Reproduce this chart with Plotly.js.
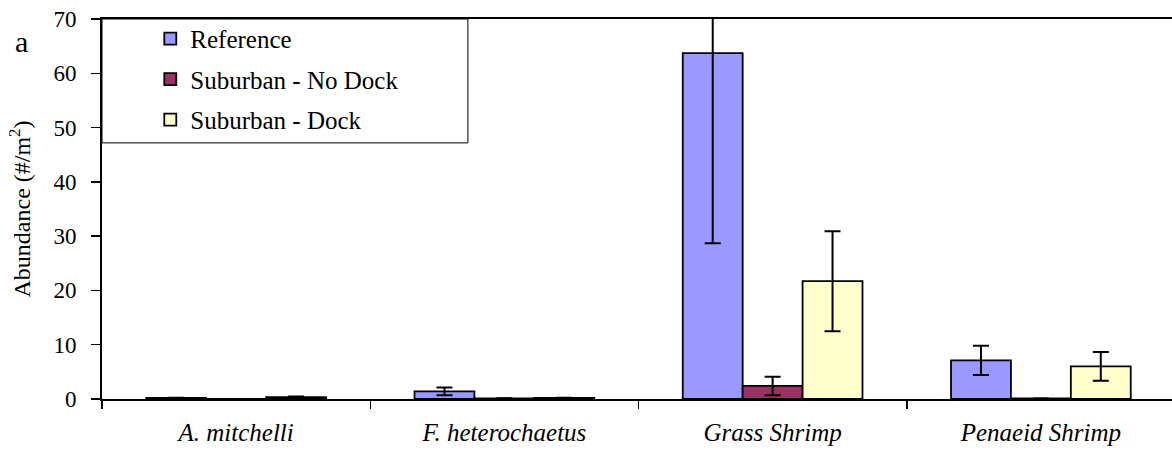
<!DOCTYPE html>
<html>
<head>
<meta charset="utf-8">
<script src="https://cdn.plot.ly/plotly-3.0.1.min.js"></script>
<style>
html,body{margin:0;padding:0;background:#fff;overflow:hidden;}
#chart{width:1175px;height:452px;}
</style>
</head>
<body>
<div id="chart"></div>
<script>
const categories = ['A. mitchelli', 'F. heterochaetus', 'Grass Shrimp', 'Penaeid Shrimp'];
const tickLabels = ['<i>A. mitchelli</i>', '<i>F. heterochaetus</i>', '<i>Grass Shrimp</i>', '<i>Penaeid Shrimp</i>'];
const seriesNames = ['Reference', 'Suburban - No Dock', 'Suburban - Dock'];
const referenceVals = [0.2, 1.4, 63.7, 7.1];
const referenceErr = [0.05, 0.7, 35.0, 2.7];
const noDockVals = [0.02, 0.1, 2.4, 0.1];
const noDockErr = [0, 0.05, 1.7, 0];
const dockVals = [0.35, 0.2, 21.7, 6.0];
const dockErr = [0.1, 0.05, 9.2, 2.65];
const yTicks = [0, 10, 20, 30, 40, 50, 60, 70];

const colors = ['#9999FF', '#993366', '#FFFFCC'];
const font = '"Times New Roman", "Liberation Serif", serif';

function mk(name, vals, errs, color, grp) {
  return {
    type: 'bar', name: name, x: categories, y: vals,
    legendgroup: grp,
    marker: {color: color, line: {color: '#000', width: 1.8}},
    error_y: {type: 'data', array: errs, visible: true, color: '#000', thickness: 2, width: 8},
    hoverinfo: 'skip'
  };
}

const data = [
  mk(seriesNames[0], referenceVals, referenceErr, colors[0], 'g1'),
  mk(seriesNames[1], noDockVals, noDockErr, colors[1], 'g2'),
  mk(seriesNames[2], dockVals, dockErr, colors[2], 'g3')
];

const layout = {
  width: 1175, height: 452,
  margin: {l: 102, r: 0, t: 19, b: 53},
  paper_bgcolor: '#fff', plot_bgcolor: '#fff',
  font: {family: font, color: '#000', size: 21},
  barmode: 'group', bargap: 0.33, bargroupgap: 0,
  showlegend: true,
  legend: {
    x: 0.045, y: 1.008, xanchor: 'left', yanchor: 'top',
    bgcolor: 'rgba(0,0,0,0)', borderwidth: 0,
    font: {family: font, size: 25, color: '#000'},
    traceorder: 'grouped', tracegroupgap: 5
  },
  xaxis: {
    type: 'category', tickmode: 'array', tickvals: categories, ticktext: tickLabels,
    tickson: 'boundaries', ticks: 'outside', ticklen: 8, tickwidth: 1.5, tickcolor: '#000',
    showline: true, linecolor: '#000', linewidth: 2, mirror: true,
    showgrid: false, zeroline: false, ticklabelstandoff: 10,
    tickfont: {family: font, size: 25}
  },
  yaxis: {
    range: [0, 70], tickmode: 'array', tickvals: yTicks,
    ticks: 'outside', ticklen: 9, tickwidth: 1.5, tickcolor: '#000',
    showline: true, linecolor: '#000', linewidth: 2,
    showgrid: false, zeroline: false, ticklabelstandoff: 10,
    tickfont: {family: font, size: 23},
    title: {text: 'Abundance (#/m<sup>2</sup>)', font: {family: font, size: 24}, standoff: 16}
  },
  shapes: [{
    type: 'rect', xref: 'paper', yref: 'paper', layer: 'above',
    x0: 0, x1: 0.341, y0: 0.674, y1: 1,
    fillcolor: '#fff', line: {color: '#000', width: 1}
  }],
  annotations: [{
    text: 'a', xref: 'paper', yref: 'paper', x: -0.075, y: 0.94,
    xanchor: 'center', yanchor: 'middle', showarrow: false,
    font: {family: font, size: 30}
  }]
};

Plotly.newPlot('chart', data, layout, {displayModeBar: false, staticPlot: true});
</script>
</body>
</html>
